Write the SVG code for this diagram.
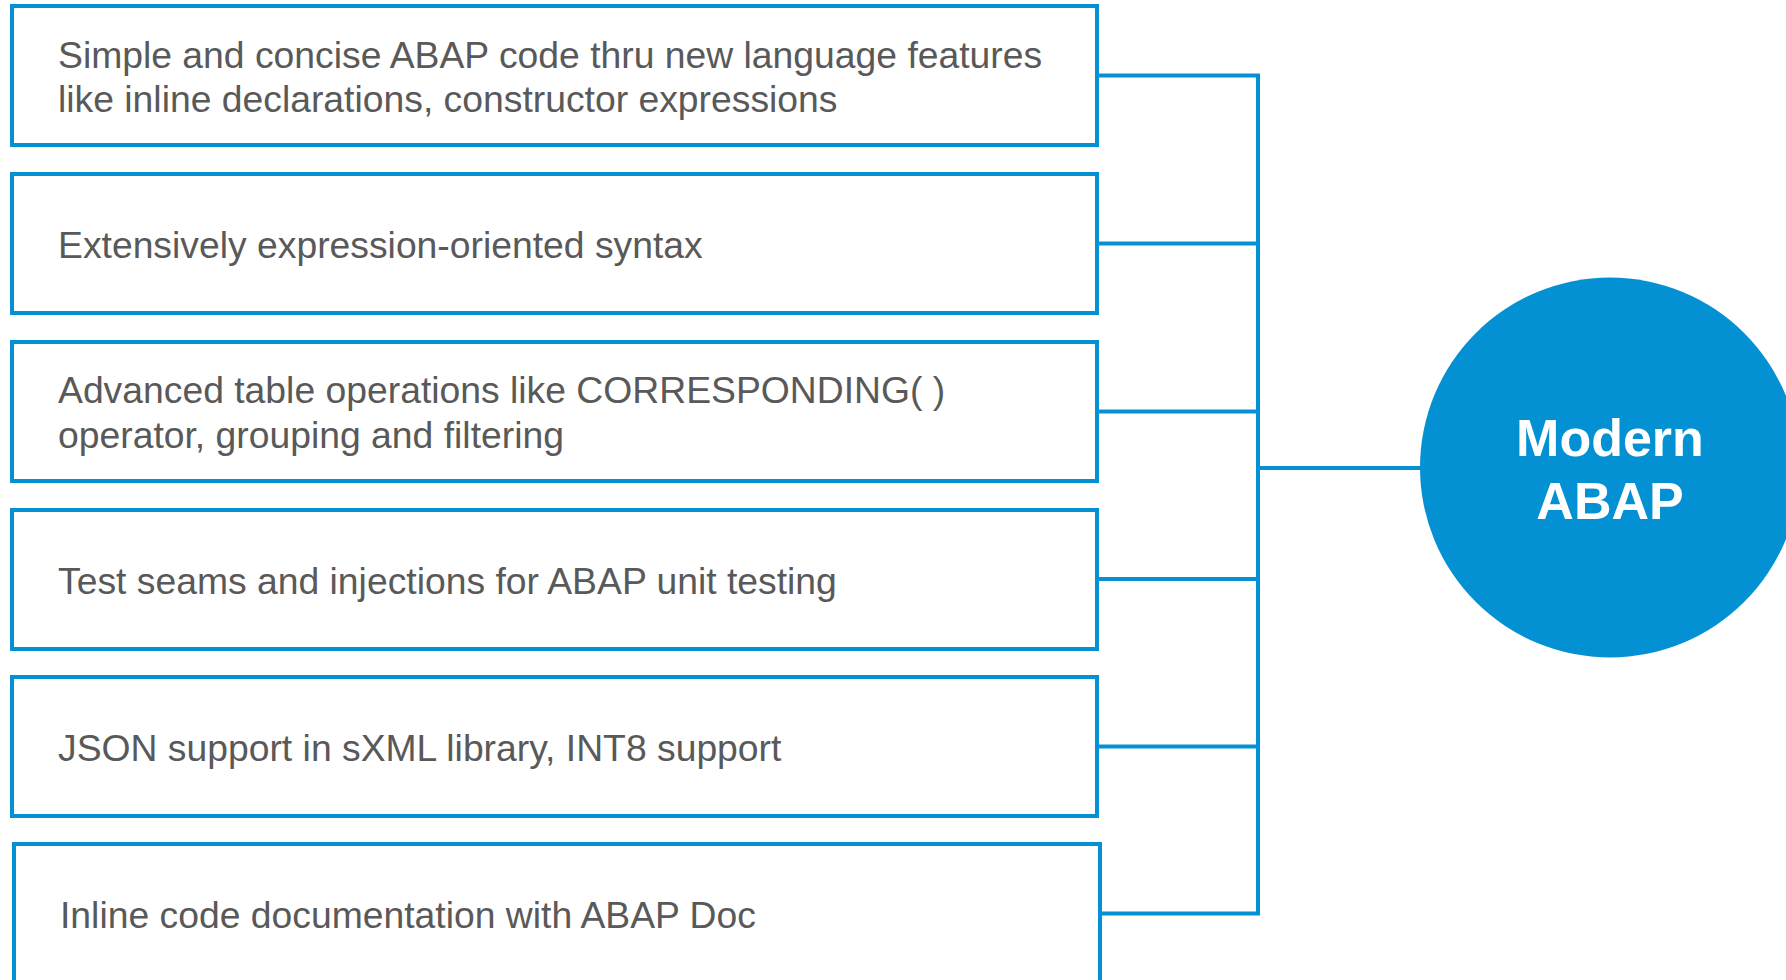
<svg xmlns="http://www.w3.org/2000/svg" width="1786" height="980" viewBox="0 0 1786 980">
<style>
.box{fill:#fff;stroke:#0391D4;stroke-width:4}
.t{font-family:"Liberation Sans",Arial,sans-serif;font-size:37.3px;fill:#595959}
.c{fill:none;stroke:#0391D4;stroke-width:4}
.h{font-family:"Liberation Sans",Arial,sans-serif;font-size:52px;font-weight:bold;fill:#fff;text-anchor:middle}
</style>
<rect width="1786" height="980" fill="#fff"/>
<g id="connectors">
<path class="c" d="M1097 75.5H1258M1097 243.5H1258M1097 411.5H1258M1097 579H1258M1097 746.5H1258M1100 913.5H1258M1258 73.5V915.5M1258 468H1422"/>
</g>
<g id="n1"><rect class="box" x="12" y="6" width="1085" height="139"/>
<text class="t" x="58" y="67.5">Simple and concise ABAP code thru new language features</text>
<text class="t" x="58" y="112">like inline declarations, constructor expressions</text></g>
<g id="n2"><rect class="box" x="12" y="174" width="1085" height="139"/>
<text class="t" x="58" y="257.5">Extensively expression-oriented syntax</text></g>
<g id="n3"><rect class="box" x="12" y="342" width="1085" height="139"/>
<text class="t" x="58" y="403">Advanced table operations like CORRESPONDING( )</text>
<text class="t" x="58" y="447.5">operator, grouping and filtering</text></g>
<g id="n4"><rect class="box" x="12" y="510" width="1085" height="139"/>
<text class="t" x="58" y="593.5">Test seams and injections for ABAP unit testing</text></g>
<g id="n5"><rect class="box" x="12" y="677" width="1085" height="139"/>
<text class="t" x="58" y="760.5">JSON support in sXML library, INT8 support</text></g>
<g id="n6"><rect class="box" x="14" y="844" width="1086" height="160"/>
<text class="t" x="60" y="927.5">Inline code documentation with ABAP Doc</text></g>
<g id="modern"><circle cx="1610" cy="467.5" r="190" fill="#0391D4"/>
<text class="h" x="1610" y="456">Modern</text>
<text class="h" x="1610" y="519">ABAP</text></g>
</svg>
